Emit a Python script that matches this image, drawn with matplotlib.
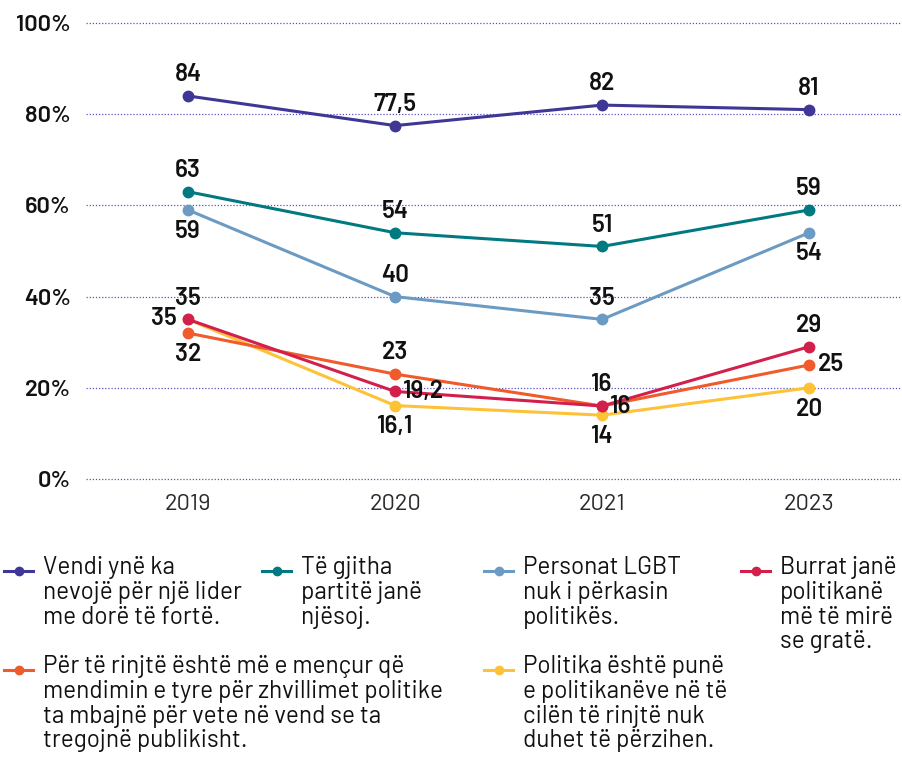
import matplotlib
matplotlib.use("Agg")
import matplotlib.pyplot as plt
from matplotlib.lines import Line2D

plt.rcParams['font.family'] = ['Barlow', 'DejaVu Sans']

years = ["2019", "2020", "2021", "2023"]
yticks = [0, 20, 40, 60, 80, 100]

vendi = [84, 77.5, 82, 81]
partite = [63, 54, 51, 59]
lgbt = [59, 40, 35, 54]
burrat = [35, 19.2, 16, 29]
rinjte = [32, 23, 16, 25]
politika = [35, 16.1, 14, 20]

names = [
    "Vendi ynë ka\nnevojë për një lider\nme dorë të fortë.",
    "Të gjitha\npartitë janë\nnjësoj.",
    "Personat LGBT\nnuk i përkasin\npolitikës.",
    "Burrat janë\npolitikanë\nmë të mirë\nse gratë.",
    "Për të rinjtë është më e mençur që\nmendimin e tyre për zhvillimet politike\nta mbajnë për vete në vend se ta\ntregojnë publikisht.",
    "Politika është punë\ne politikanëve në të\ncilën të rinjtë nuk\nduhet të përzihen.",
]
colors = ["#3f3795", "#007a80", "#6b9bc3", "#d21f4c", "#f15a2b", "#fdc236"]

# where each value label sits: a=above, b=below, r=right, l=left
places = [
    ["a", "a", "a", "a"],
    ["a", "a", "a", "a"],
    ["b", "a", "a", "b"],
    ["a", "r", "a", "a"],
    ["b", "a", "r", "r"],
    ["l", "b", "b", "b"],
]

series = [vendi, partite, lgbt, burrat, rinjte, politika]
draw_order = [0, 1, 2, 5, 4, 3]

fig = plt.figure(figsize=(9.02, 7.62), dpi=100)
ax = fig.add_axes([86 / 902, 1 - 479 / 762, 816 / 902, 456 / 762])

x = list(range(len(years)))
offsets = {"a": (0, 7, "center", "bottom"), "b": (0, -7, "center", "top"),
           "r": (6, 0, "left", "center"), "l": (-8, 1, "right", "center")}

for i in draw_order:
    ax.plot(x, series[i], color=colors[i], lw=2.2, marker="o", ms=7.5, zorder=3)
for i in range(len(series)):
    for j, v in enumerate(series[i]):
        dx, dy, ha, va = offsets[places[i][j]]
        txt = f"{v:g}".replace(".", ",")
        ax.annotate(txt, (x[j], v), xytext=(dx, dy), textcoords="offset points",
                    ha=ha, va=va, fontsize=17.5, fontweight="semibold", color="#111111", zorder=5)

ax.set_xlim(-0.493, 3.449)
ax.set_ylim(0, 100)
ax.set_xticks(x)
ax.set_xticklabels(years, fontsize=17, color="#2a2a2a")
ax.set_yticks(yticks)
ax.set_yticklabels([f"{t}%" for t in yticks], fontsize=17, fontweight="semibold", color="#111111")
ax.tick_params(axis="both", length=0)
ax.tick_params(axis="y", pad=11)
ax.tick_params(axis="x", pad=11)
ax.grid(axis="y", color="#5a50c0", linestyle=(0, (1, 1.5)), lw=0.9)
for g in ax.get_ygridlines():
    g.set_clip_on(False)
ax.set_axisbelow(True)
for s in ax.spines.values():
    s.set_visible(False)

# legend laid out like the source, handle level with first line
leg_pos = [(4, 571), (262, 571), (484, 571), (741, 571), (4, 670), (484, 670)]
for i, (px, py) in enumerate(leg_pos):
    fx = px / 902
    fy = 1 - py / 762
    fig.add_artist(Line2D([fx, fx + 29 / 902], [fy, fy], color=colors[i], lw=2.2,
                          transform=fig.transFigure))
    fig.add_artist(Line2D([fx + 15 / 902], [fy], color=colors[i], marker="o", ms=6,
                          transform=fig.transFigure))
    fig.text(fx + 39 / 902, fy + 15 / 762, names[i], ha="left", va="top",
             fontsize=17.5, color="#111111", linespacing=1.1,
             transform=fig.transFigure)

fig.savefig("out.png", dpi=100)
